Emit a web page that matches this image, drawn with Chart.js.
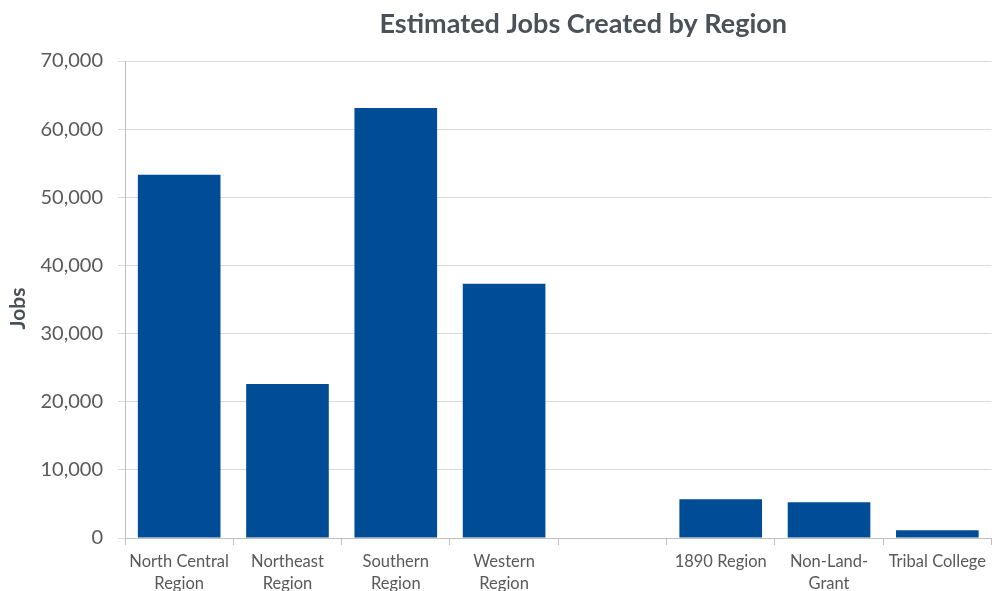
<!DOCTYPE html>
<html>
<head>
<meta charset="utf-8">
<script src="https://cdn.jsdelivr.net/npm/chart.js@4/dist/chart.umd.min.js"></script>
<style>
  html, body { margin: 0; padding: 0; background: #fff; overflow: hidden; }
  #wrap { position: relative; width: 992px; height: 620px; }
</style>
</head>
<body>
<div id="wrap"><canvas id="chart" width="992" height="620"></canvas></div>
<script>
const categories = [
    ['North Central', 'Region'],
    ['Northeast', 'Region'],
    ['Southern', 'Region'],
    ['Western', 'Region'],
    '',
    '1890 Region',
    ['Non-Land-', 'Grant'],
    'Tribal College'
];
const jobs = [53300, 22600, 63100, 37300, null, 5700, 5250, 1150];
const yTicks = { min: 0, max: 70000, step: 10000 };

const TITLE = 'Estimated Jobs Created by Region';
const Y_TITLE = 'Jobs';
const TEXT_GREY = '#595959';
const TITLE_GREY = '#4a5158';
const FONT = 'Lato, "Open Sans", sans-serif';

// both titles sit a little off-centre in the original, so draw them here
const titlePlugin = {
    id: 'offsetTitles',
    afterDraw(chart) {
        const { ctx, chartArea } = chart;
        ctx.save();
        ctx.font = 'bold 27px ' + FONT;
        ctx.fillStyle = TITLE_GREY;
        ctx.textAlign = 'center';
        ctx.textBaseline = 'alphabetic';
        ctx.fillText(TITLE, (chartArea.left + chartArea.right) / 2 + 25, 33);

        ctx.font = 'bold 21px ' + FONT;
        ctx.translate(18, (chartArea.top + chartArea.bottom) / 2 + 9);
        ctx.rotate(-Math.PI / 2);
        ctx.textBaseline = 'middle';
        ctx.fillText(Y_TITLE, 0, 0);
        ctx.restore();
    }
};

new Chart(document.getElementById('chart'), {
    type: 'bar',
    data: {
        labels: categories,
        datasets: [{
            label: 'Jobs',
            data: jobs,
            backgroundColor: '#004c97',
            borderWidth: 0,
            categoryPercentage: 1,
            barPercentage: 0.763
        }]
    },
    plugins: [titlePlugin],
    options: {
        responsive: false,
        animation: false,
        layout: { padding: { top: 61, right: 0, bottom: 0, left: 0 } },
        plugins: {
            legend: { display: false },
            tooltip: { enabled: false },
            title: { display: false }
        },
        scales: {
            x: {
                offset: true,
                afterFit: (scale) => { scale.height = 82; },
                grid: {
                    offset: true,
                    drawOnChartArea: false,
                    drawTicks: true,
                    tickLength: 7,
                    color: '#bfbfbf'
                },
                border: { display: true, color: '#bfbfbf' },
                ticks: {
                    autoSkip: false,
                    maxRotation: 0,
                    padding: 6,
                    color: TEXT_GREY,
                    font: { family: FONT, size: 16.5, lineHeight: 1.33 }
                }
            },
            y: {
                min: yTicks.min,
                max: yTicks.max,
                afterFit: (scale) => { scale.width = 125; },
                grid: {
                    color: '#d9d9d9',
                    tickLength: 7,
                    drawTicks: true
                },
                border: { display: true, color: '#bfbfbf' },
                ticks: {
                    stepSize: yTicks.step,
                    padding: 15,
                    color: TEXT_GREY,
                    font: { family: FONT, size: 20 },
                    callback: (v) => v.toLocaleString('en-US')
                }
            }
        }
    }
});
</script>
</body>
</html>
